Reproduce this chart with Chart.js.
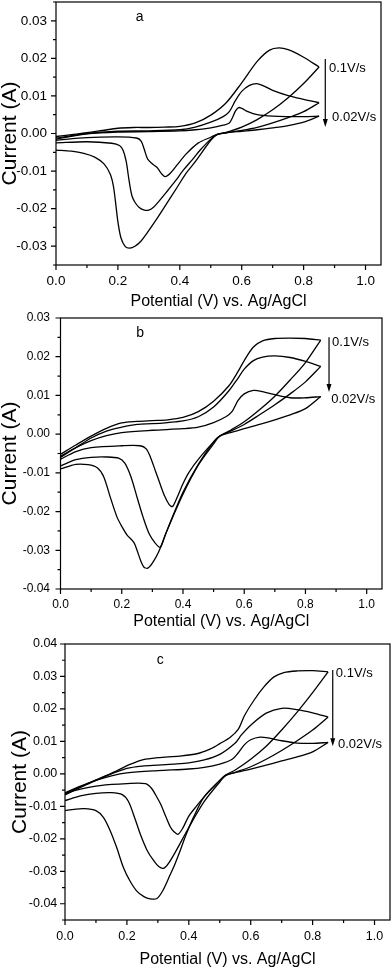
<!DOCTYPE html>
<html>
<head>
<meta charset="utf-8">
<script src="https://cdn.jsdelivr.net/npm/chart.js@4.4.1/dist/chart.umd.min.js"></script>
<style>
  html, body { margin: 0; padding: 0; background: #fff; }
  body { width: 392px; height: 970px; position: relative; overflow: hidden; }
  canvas { position: absolute; left: 0; }
</style>
</head>
<body>
<canvas id="cvA"></canvas>
<canvas id="cvB"></canvas>
<canvas id="cvC"></canvas>
<script>
// potential (V), current (A) pairs
// "Up" = forward branch from 0 V to 0.85 V, "Down" = return branch back to 0 V
const aFastUp = [[0,-0.0008],[0.05,-0.0003],[0.1,0.0002],[0.15,0.0008],[0.2,0.0014],[0.25,0.0016],[0.3,0.0016],[0.35,0.0017],[0.4,0.0019],[0.45,0.0028],[0.5,0.0049],[0.55,0.0082],[0.6,0.0135],[0.65,0.0192],[0.69,0.0222],[0.72,0.0228],[0.75,0.0223],[0.8,0.0203],[0.85,0.0177]];
const aFastDown = [[0.85,0.0177],[0.8,0.0133],[0.75,0.0095],[0.7,0.0063],[0.65,0.0037],[0.6,0.0017],[0.55,0.0003],[0.52,-0.0003],[0.5,-0.0018],[0.45,-0.0075],[0.42,-0.0106],[0.39,-0.0145],[0.358,-0.0186],[0.325,-0.0228],[0.294,-0.0265],[0.275,-0.0286],[0.255,-0.03],[0.238,-0.0305],[0.224,-0.0301],[0.21,-0.0278],[0.2,-0.0235],[0.192,-0.018],[0.185,-0.0138],[0.175,-0.0108],[0.155,-0.0081],[0.125,-0.0063],[0.09,-0.0053],[0.05,-0.0047],[0,-0.0044]];
const aMidUp = [[0,-0.0012],[0.1,0],[0.2,0.0006],[0.3,0.0007],[0.4,0.001],[0.45,0.0017],[0.5,0.003],[0.54,0.0045],[0.56,0.0058],[0.58,0.0088],[0.6,0.0112],[0.625,0.0128],[0.648,0.0133],[0.67,0.0127],[0.7,0.0115],[0.75,0.0101],[0.8,0.0091],[0.85,0.0082]];
const aMidDown = [[0.85,0.0082],[0.8,0.0058],[0.75,0.0042],[0.7,0.0028],[0.65,0.0016],[0.6,0.0008],[0.55,0.0002],[0.52,-0.0003],[0.5,-0.0015],[0.466,-0.0044],[0.44,-0.007],[0.412,-0.0097],[0.385,-0.0127],[0.358,-0.0155],[0.335,-0.0178],[0.315,-0.0196],[0.299,-0.0204],[0.283,-0.0203],[0.268,-0.0196],[0.255,-0.0183],[0.245,-0.0165],[0.236,-0.0125],[0.227,-0.0075],[0.217,-0.0045],[0.205,-0.0032],[0.18,-0.0026],[0.1,-0.0022],[0,-0.0025]];
const aSlowUp = [[0,-0.0015],[0.1,-0.0001],[0.2,0.0004],[0.3,0.0005],[0.4,0.0007],[0.45,0.001],[0.5,0.0015],[0.54,0.0022],[0.56,0.0028],[0.57,0.0042],[0.58,0.006],[0.59,0.0069],[0.6,0.0067],[0.62,0.0058],[0.65,0.005],[0.7,0.0046],[0.75,0.0045],[0.8,0.0045],[0.85,0.0046]];
const aSlowDown = [[0.85,0.0046],[0.8,0.003],[0.75,0.0021],[0.7,0.0015],[0.65,0.001],[0.6,0.0006],[0.55,0.0002],[0.52,-0.0002],[0.5,-0.001],[0.46,-0.0025],[0.42,-0.0055],[0.39,-0.0085],[0.37,-0.0105],[0.353,-0.0115],[0.342,-0.0108],[0.326,-0.009],[0.31,-0.008],[0.296,-0.0068],[0.285,-0.0042],[0.275,-0.002],[0.26,-0.0012],[0.2,-0.0009],[0.1,-0.0011],[0,-0.0018]];

const bFastUp = [[0,-0.0052],[0.05,-0.0028],[0.1,-0.0005],[0.15,0.0015],[0.2,0.0029],[0.25,0.0033],[0.3,0.0035],[0.35,0.0037],[0.4,0.0043],[0.45,0.0058],[0.5,0.0085],[0.55,0.0125],[0.58,0.0162],[0.6,0.019],[0.63,0.0225],[0.66,0.0241],[0.7,0.0247],[0.75,0.0248],[0.8,0.0247],[0.85,0.0243]];
const bFastDown = [[0.85,0.0243],[0.8,0.0185],[0.75,0.014],[0.7,0.0098],[0.65,0.0063],[0.6,0.0032],[0.55,0.0008],[0.52,-0.0005],[0.5,-0.0025],[0.45,-0.008],[0.4,-0.0155],[0.35,-0.0245],[0.32,-0.0305],[0.3,-0.0333],[0.285,-0.0346],[0.272,-0.0343],[0.262,-0.0327],[0.25,-0.03],[0.24,-0.028],[0.217,-0.026],[0.2,-0.0238],[0.185,-0.0215],[0.163,-0.0164],[0.141,-0.011],[0.12,-0.0087],[0.09,-0.0079],[0.05,-0.0078],[0,-0.009]];
const bMidUp = [[0,-0.006],[0.05,-0.0035],[0.1,-0.001],[0.15,0.0008],[0.2,0.0018],[0.25,0.0025],[0.3,0.0027],[0.35,0.003],[0.4,0.0034],[0.45,0.0045],[0.5,0.007],[0.55,0.0112],[0.58,0.0145],[0.6,0.0168],[0.63,0.019],[0.66,0.0199],[0.7,0.0202],[0.75,0.0198],[0.8,0.0188],[0.85,0.0175]];
const bMidDown = [[0.85,0.0175],[0.8,0.0135],[0.75,0.0104],[0.7,0.0076],[0.65,0.005],[0.6,0.0025],[0.55,0.0006],[0.52,-0.0005],[0.5,-0.002],[0.45,-0.0078],[0.4,-0.015],[0.36,-0.0225],[0.34,-0.0265],[0.326,-0.0292],[0.31,-0.0282],[0.29,-0.0258],[0.27,-0.0215],[0.25,-0.0163],[0.23,-0.011],[0.21,-0.0075],[0.19,-0.0062],[0.15,-0.0059],[0.1,-0.006],[0.05,-0.0066],[0,-0.0082]];
const bSlowUp = [[0,-0.0057],[0.05,-0.0035],[0.1,-0.0017],[0.15,-0.0004],[0.2,0.0004],[0.3,0.001],[0.4,0.0014],[0.45,0.0018],[0.5,0.003],[0.54,0.0045],[0.56,0.0058],[0.58,0.0087],[0.6,0.0104],[0.63,0.0113],[0.66,0.011],[0.7,0.0102],[0.75,0.0094],[0.8,0.0094],[0.85,0.0097]];
const bSlowDown = [[0.85,0.0097],[0.8,0.0066],[0.75,0.005],[0.7,0.0037],[0.65,0.0025],[0.6,0.0014],[0.55,0.0003],[0.52,-0.0005],[0.5,-0.002],[0.45,-0.0065],[0.42,-0.0098],[0.4,-0.0128],[0.38,-0.0165],[0.366,-0.0187],[0.355,-0.0182],[0.34,-0.016],[0.325,-0.0128],[0.31,-0.0095],[0.295,-0.0062],[0.28,-0.0038],[0.26,-0.003],[0.2,-0.003],[0.1,-0.0035],[0.05,-0.0045],[0,-0.0065]];

const cFastUp = [[0,-0.0062],[0.07,-0.0031],[0.146,0],[0.21,0.0029],[0.253,0.0044],[0.3,0.005],[0.37,0.0055],[0.426,0.0062],[0.47,0.0077],[0.5,0.0093],[0.534,0.0113],[0.56,0.0138],[0.58,0.018],[0.61,0.0226],[0.642,0.0267],[0.674,0.0298],[0.707,0.0312],[0.75,0.0317],[0.8,0.0318],[0.85,0.0314]];
const cFastDown = [[0.85,0.0314],[0.8,0.025],[0.75,0.019],[0.7,0.0135],[0.65,0.0085],[0.6,0.0045],[0.55,0.0012],[0.52,-0.0003],[0.5,-0.002],[0.45,-0.007],[0.415,-0.0134],[0.39,-0.019],[0.372,-0.0237],[0.355,-0.0278],[0.34,-0.031],[0.318,-0.0356],[0.297,-0.0384],[0.275,-0.0385],[0.255,-0.0378],[0.232,-0.0361],[0.21,-0.033],[0.189,-0.0289],[0.167,-0.0227],[0.146,-0.0175],[0.124,-0.0134],[0.1,-0.0113],[0.06,-0.0107],[0.03,-0.0109],[0,-0.0113]];
const cMidUp = [[0,-0.0065],[0.05,-0.0042],[0.1,-0.002],[0.15,0],[0.2,0.0017],[0.25,0.0024],[0.3,0.0027],[0.35,0.003],[0.4,0.0034],[0.45,0.0043],[0.5,0.006],[0.55,0.0095],[0.57,0.012],[0.6,0.015],[0.65,0.0187],[0.7,0.0202],[0.75,0.0198],[0.8,0.0188],[0.85,0.0175]];
const cMidDown = [[0.85,0.0175],[0.8,0.0135],[0.75,0.0102],[0.7,0.0072],[0.65,0.0045],[0.6,0.0022],[0.55,0.0005],[0.52,-0.0005],[0.5,-0.0025],[0.45,-0.0085],[0.4,-0.0165],[0.36,-0.0235],[0.335,-0.0275],[0.32,-0.029],[0.305,-0.0287],[0.285,-0.0265],[0.265,-0.0235],[0.245,-0.019],[0.225,-0.0135],[0.205,-0.0085],[0.185,-0.0064],[0.15,-0.0058],[0.1,-0.006],[0.05,-0.0068],[0,-0.0082]];
const cSlowUp = [[0,-0.0058],[0.05,-0.0038],[0.1,-0.002],[0.15,-0.0006],[0.2,0.0003],[0.3,0.001],[0.4,0.0015],[0.45,0.002],[0.5,0.003],[0.54,0.0045],[0.56,0.0065],[0.58,0.009],[0.6,0.0105],[0.63,0.0113],[0.66,0.011],[0.7,0.0102],[0.75,0.0095],[0.8,0.0094],[0.85,0.0097]];
const cSlowDown = [[0.85,0.0097],[0.8,0.0068],[0.75,0.0052],[0.7,0.004],[0.65,0.0027],[0.6,0.0015],[0.55,0.0004],[0.52,-0.0004],[0.5,-0.002],[0.45,-0.007],[0.42,-0.0105],[0.4,-0.013],[0.38,-0.0168],[0.365,-0.0186],[0.352,-0.0178],[0.34,-0.0163],[0.325,-0.013],[0.31,-0.0095],[0.297,-0.0072],[0.28,-0.0045],[0.26,-0.003],[0.2,-0.003],[0.113,-0.0036],[0.05,-0.0047],[0,-0.006]];

// tick values
const xTicks = [0, 0.2, 0.4, 0.6, 0.8, 1.0];
const aYTicks = [-0.03, -0.02, -0.01, 0, 0.01, 0.02, 0.03];
const bYTicks = [-0.04, -0.03, -0.02, -0.01, 0, 0.01, 0.02, 0.03];
const cYTicks = [-0.04, -0.03, -0.02, -0.01, 0, 0.01, 0.02, 0.03, 0.04];

const rateLabels = ['0.1V/s', '0.02V/s'];
const xTitle = 'Potential (V) vs. Ag/AgCl';
const yTitle = 'Current (A)';
const FONT = "'Liberation Sans', Arial, sans-serif";

const panels = [
  {
    id: 'cvA', letter: 'a', top: 0, h: 315, padTop: 2, padRight: 11, yW: 56, xH: 50,
    yMin: -0.035, yMax: 0.035, yTicks: aYTicks, tick: 13.5, xTickPad: 3, xTitlePad: 3.4, yTickPad: 4, yTitlePad: 0,
    curves: [aFastUp, aFastDown, aMidUp, aMidDown, aSlowUp, aSlowDown],
    note: { letterAt: [0.27, 0.031], arrow: [0.87, 0.0198, 0.0017], fastAt: [0.882, 0.0174], slowAt: [0.892, 0.0044] }
  },
  {
    id: 'cvB', letter: 'b', top: 305, h: 330, padTop: 13, padRight: 10, yW: 60.5, xH: 46,
    yMin: -0.04, yMax: 0.03, yTicks: bYTicks, tick: 12, xTickPad: 3, xTitlePad: 3.4, yTickPad: 5.5, yTitlePad: 0,
    curves: [bFastUp, bFastDown, bMidUp, bMidDown, bSlowUp, bSlowDown],
    note: { letterAt: [0.26, 0.0261], arrow: [0.877, 0.025, 0.0109], fastAt: [0.887, 0.0238], slowAt: [0.884, 0.009] }
  },
  {
    id: 'cvC', letter: 'c', top: 630, h: 340, padTop: 14, padRight: 2, yW: 65, xH: 50,
    yMin: -0.045, yMax: 0.04, yTicks: cYTicks, tick: 12.5, xTickPad: 4, xTitlePad: 0.4, yTickPad: 2.7, yTitlePad: 9.5,
    curves: [cFastUp, cFastDown, cMidUp, cMidDown, cSlowUp, cSlowDown],
    note: { letterAt: [0.308, 0.035], arrow: [0.865, 0.032, 0.0085], fastAt: [0.875, 0.031], slowAt: [0.882, 0.0091] }
  }
];

// box frame, outward major/minor ticks, rate arrow and panel letter
const framePlugin = {
  id: 'frame',
  afterDraw(chart, args, opts) {
    const { ctx, chartArea: area, scales: { x, y } } = chart;
    ctx.save();
    ctx.strokeStyle = '#000';
    ctx.fillStyle = '#000';
    ctx.lineWidth = 1.2;
    ctx.strokeRect(area.left, area.top, area.right - area.left, area.bottom - area.top);

    ctx.beginPath();
    for (let i = 0; i <= 10; i++) {
      const px = x.getPixelForValue(i / 10);
      ctx.moveTo(px, area.bottom);
      ctx.lineTo(px, area.bottom + (i % 2 === 0 ? 5 : 3));
    }
    const kMin = Math.ceil(y.min / 0.005 - 1e-6);
    const kMax = Math.floor(y.max / 0.005 + 1e-6);
    for (let k = kMin; k <= kMax; k++) {
      const py = y.getPixelForValue(k * 0.005);
      ctx.moveTo(area.left, py);
      ctx.lineTo(area.left - (k % 2 === 0 ? 5 : 3), py);
    }
    ctx.stroke();

    const ax = x.getPixelForValue(opts.arrow[0]);
    const ay1 = y.getPixelForValue(opts.arrow[1]);
    const ay2 = y.getPixelForValue(opts.arrow[2]);
    ctx.lineWidth = 1.2;
    ctx.beginPath();
    ctx.moveTo(ax, ay1);
    ctx.lineTo(ax, ay2 - 6);
    ctx.stroke();
    ctx.beginPath();
    ctx.moveTo(ax - 2.5, ay2 - 8);
    ctx.lineTo(ax + 2.5, ay2 - 8);
    ctx.lineTo(ax, ay2);
    ctx.closePath();
    ctx.fill();

    ctx.font = `13px ${FONT}`;
    ctx.textAlign = 'left';
    ctx.textBaseline = 'middle';
    ctx.fillText(rateLabels[0], x.getPixelForValue(opts.fastAt[0]), y.getPixelForValue(opts.fastAt[1]));
    ctx.fillText(rateLabels[1], x.getPixelForValue(opts.slowAt[0]), y.getPixelForValue(opts.slowAt[1]));

    ctx.font = `14px ${FONT}`;
    ctx.textAlign = 'center';
    ctx.fillText(opts.letter, x.getPixelForValue(opts.letterAt[0]), y.getPixelForValue(opts.letterAt[1]));
    ctx.restore();
  }
};

function fmtY(v) {
  return Math.abs(v) < 1e-9 ? '0.00' : v.toFixed(2);
}

function makeChart(p) {
  const canvas = document.getElementById(p.id);
  canvas.width = 392;
  canvas.height = p.h;
  canvas.style.top = p.top + 'px';

  const datasets = p.curves.map((c) => ({
    data: c.map(([x, y]) => ({ x, y })),
    showLine: true,
    borderColor: '#000',
    borderWidth: 1.3,
    pointRadius: 0,
    tension: 0.3,
    fill: false
  }));

  new Chart(canvas, {
    type: 'scatter',
    data: { datasets },
    options: {
      responsive: false,
      animation: false,
      events: [],
      layout: { padding: { top: p.padTop, right: p.padRight, left: 0, bottom: 0 } },
      plugins: {
        legend: { display: false },
        tooltip: { enabled: false },
        frame: { ...p.note, letter: p.letter }
      },
      scales: {
        x: {
          type: 'linear',
          min: 0,
          max: 1.05,
          grid: { display: false, drawTicks: true, tickLength: 5 },
          border: { display: false },
          afterBuildTicks: (s) => { s.ticks = xTicks.map((value) => ({ value })); },
          ticks: {
            autoSkip: false,
            maxRotation: 0,
            color: '#000',
            padding: p.xTickPad,
            font: { family: FONT, size: p.tick },
            callback: (v) => v.toFixed(1)
          },
          title: {
            display: true,
            text: xTitle,
            color: '#000',
            font: { family: FONT, size: 16 },
            padding: { top: 0, bottom: p.xTitlePad }
          },
          afterFit: (s) => {
            s.height = p.xH;
            s.paddingLeft = 0;
            s.paddingRight = 0;
          }
        },
        y: {
          type: 'linear',
          min: p.yMin,
          max: p.yMax,
          grid: { display: false, drawTicks: true, tickLength: 5 },
          border: { display: false },
          afterBuildTicks: (s) => { s.ticks = p.yTicks.map((value) => ({ value })); },
          ticks: {
            autoSkip: false,
            color: '#000',
            padding: p.yTickPad,
            font: { family: FONT, size: p.tick },
            callback: fmtY
          },
          title: {
            display: true,
            text: yTitle,
            color: '#000',
            font: { family: FONT, size: 21, lineHeight: 1 },
            padding: { top: p.yTitlePad, bottom: 0 }
          },
          afterFit: (s) => {
            s.width = p.yW;
            s.paddingTop = 0;
            s.paddingBottom = 0;
          }
        }
      }
    },
    plugins: [framePlugin]
  });
}

panels.forEach(makeChart);
</script>
</body>
</html>
